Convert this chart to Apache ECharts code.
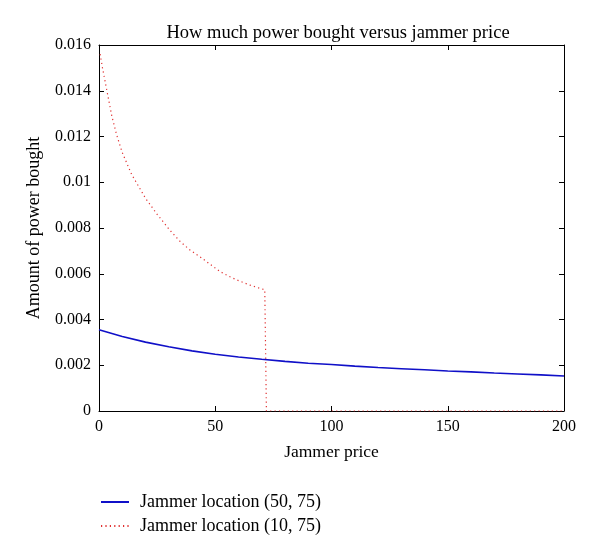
<!DOCTYPE html>
<html>
<head>
<meta charset="utf-8">
<script src="https://cdn.jsdelivr.net/npm/echarts@6/dist/echarts.min.js"></script>
<style>html,body{margin:0;padding:0;background:#fff;}#c{width:600px;height:553px;}</style>
</head>
<body>
<div id="c"></div>
<script>
const titleText = "How much power bought versus jammer price";
const xName = "Jammer price";
const yName = "Amount of power bought";
const blueName = "Jammer location (50, 75)";
const redName = "Jammer location (10, 75)";
const xTicks = [0, 50, 100, 150, 200];
const yTicks = [0, 0.002, 0.004, 0.006, 0.008, 0.01, 0.012, 0.014, 0.016];

const blueX = [0, 10, 20, 30, 40, 50, 60, 70, 80, 90, 100, 110, 120, 130, 140, 150, 160, 170, 180, 190, 200];
const blueY = [0.00355, 0.00326, 0.00301, 0.00281, 0.00263, 0.00248, 0.00236, 0.00226, 0.00217, 0.00209, 0.00203, 0.00196, 0.0019, 0.00185, 0.0018, 0.00175, 0.00171, 0.00166, 0.00162, 0.00158, 0.00153];

const redX = [0.5, 1.5, 3.4, 5.5, 7.5, 10, 14, 20, 25, 30.5, 35, 39, 44, 48, 52, 56, 60, 65, 68, 71.3, 71.6, 72, 200];
const redY = [0.0156, 0.0150, 0.0140, 0.0129, 0.0121, 0.0113, 0.01035, 0.0093, 0.0086, 0.0079, 0.0074, 0.00705, 0.0067, 0.0064, 0.0061, 0.00588, 0.0057, 0.0055, 0.0054, 0.0053, 0.0053, 0, 0];

const font = "Liberation Serif";
const chart = echarts.init(document.getElementById('c'));
const axisLine = {show: true, onZero: false, lineStyle: {color: '#000', width: 1}};
chart.setOption({
  animation: false,
  title: {text: titleText, left: 333, textAlign: 'center', top: 19,
    textStyle: {fontFamily: font, fontSize: 18.5, fontWeight: 'normal', color: '#000'}},
  grid: {left: 99, right: 36, top: 45, bottom: 142},
  legend: {
    orient: 'vertical', left: 95, top: 488, itemWidth: 28, itemHeight: 10, itemGap: 6,
    itemStyle: {opacity: 0},
    textStyle: {fontFamily: font, fontSize: 18, lineHeight: 18, color: '#000', padding: [0,0,0,6]},
    data: [blueName, redName]
  },
  xAxis: [
    {type: 'value', min: xTicks[0], max: xTicks[xTicks.length-1], interval: 50,
     name: xName, nameLocation: 'middle', nameGap: 32,
     nameTextStyle: {fontFamily: font, fontSize: 17.5, color: '#000'},
     axisLine: axisLine, axisTick: {show: true, inside: true, length: 5, lineStyle: {color: '#000'}},
     axisLabel: {fontFamily: font, fontSize: 16, color: '#000', margin: 8},
     splitLine: {show: false}},
    {type: 'value', position: 'top', min: xTicks[0], max: xTicks[xTicks.length-1], interval: 50,
     axisLine: axisLine, axisTick: {show: true, inside: true, length: 5, lineStyle: {color: '#000'}},
     axisLabel: {show: false}, splitLine: {show: false}}
  ],
  yAxis: [
    {type: 'value', min: yTicks[0], max: yTicks[yTicks.length-1], interval: 0.002,
     name: yName, nameLocation: 'middle', nameGap: 56,
     nameTextStyle: {fontFamily: font, fontSize: 18, color: '#000'},
     axisLine: axisLine, axisTick: {show: true, inside: true, length: 5, lineStyle: {color: '#000'}},
     axisLabel: {fontFamily: font, fontSize: 16, color: '#000', margin: 8},
     splitLine: {show: false}},
    {type: 'value', position: 'right', min: yTicks[0], max: yTicks[yTicks.length-1], interval: 0.002,
     axisLine: axisLine, axisTick: {show: true, inside: true, length: 5, lineStyle: {color: '#000'}},
     axisLabel: {show: false}, splitLine: {show: false}}
  ],
  series: [
    {name: blueName, type: 'line', showSymbol: false, symbol: 'none',
     data: blueX.map((x, i) => [x, blueY[i]]),
     lineStyle: {color: '#1010c8', width: 1.6}, itemStyle: {color: '#1010c8'}, z: 3},
    {name: redName, type: 'line', showSymbol: false, symbol: 'none',
     data: redX.map((x, i) => [x, redY[i]]),
     lineStyle: {color: '#e03030', width: 1.2, type: [1.2, 3.2]}, itemStyle: {color: '#e03030'}, z: 2}
  ]
});
</script>
</body>
</html>
